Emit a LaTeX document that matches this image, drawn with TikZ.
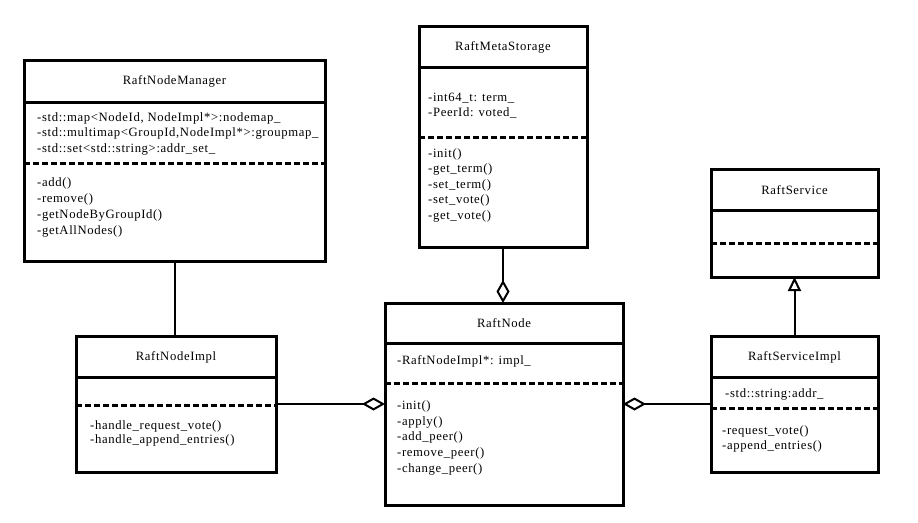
\documentclass[tikz,border=0pt]{standalone}
\usepackage{fontspec}
\setmainfont{Liberation Serif}[LetterSpace=5]
\usetikzlibrary{arrows.meta}
\newcommand{\umlfont}[1]{\fontsize{12.7}{#1}\selectfont}

\begin{document}
\begin{tikzpicture}[x=1pt, y=-1pt,
    classbox/.style={draw, line width=3pt, inner sep=0pt, outer sep=0pt},
    title/.style={inner sep=0pt, font=\umlfont{15}},
    members/.style={anchor=north west, inner sep=0pt, align=left},
    sepline/.style={line width=3pt},
    dashline/.style={line width=3pt, dash pattern=on 6pt off 3pt},
    link/.style={line width=2pt},
    aggr/.style={link, -{Diamond[open, length=23pt, width=13pt]}},
    inherit/.style={link, -{Triangle[open, length=14pt, width=13pt]}}]

    \useasboundingbox (0,0) rectangle (918,522);

    % 1. RaftNodeManager
    \node[classbox, minimum width=301pt, minimum height=201pt] (mgr) at (174.5,160.5) {};
    \node[title] (mgr-t) at (174.5,81) {RaftNodeManager};
    \draw[sepline] ([yshift=-42pt]mgr.north west) -- ([yshift=-42pt]mgr.north east);
    \draw[dashline] ([yshift=-103pt]mgr.north west) -- ([yshift=-103pt]mgr.north east);
    \node[members, font=\umlfont{15.7}] (mgr-a) at (37,110)
        {\strut -std::map<NodeId, NodeImpl*>:nodemap\_\\
         -std::multimap<GroupId,NodeImpl*>:groupmap\_\\
         -std::set<std::string>:addr\_set\_};
    \node[members, font=\umlfont{15.9}] (mgr-m) at (37,175)
        {\strut -add()\\ -remove()\\ -getNodeByGroupId()\\ -getAllNodes()};

    % 2. RaftMetaStorage
    \node[classbox, minimum width=168pt, minimum height=221pt] (meta) at (503,136.5) {};
    \node[title] (meta-t) at (503,47) {RaftMetaStorage};
    \draw[sepline] ([yshift=-41pt]meta.north west) -- ([yshift=-41pt]meta.north east);
    \draw[dashline] ([yshift=-111pt]meta.north west) -- ([yshift=-111pt]meta.north east);
    \node[members, font=\umlfont{15.5}] (meta-a) at (428,90)
        {\strut -int64\_t: term\_\\ -PeerId: voted\_};
    \node[members, font=\umlfont{15.5}] (meta-m) at (428,146)
        {\strut -init()\\ -get\_term()\\ -set\_term()\\ -set\_vote()\\ -get\_vote()};

    % 3. RaftService
    \node[classbox, minimum width=167pt, minimum height=108pt] (srv) at (794.5,223) {};
    \node[title] (srv-t) at (794.5,190) {RaftService};
    \draw[sepline] ([yshift=-41pt]srv.north west) -- ([yshift=-41pt]srv.north east);
    \draw[dashline] ([yshift=-74pt]srv.north west) -- ([yshift=-74pt]srv.north east);

    % 4. RaftServiceImpl
    \node[classbox, minimum width=167pt, minimum height=136pt] (srvimpl) at (794.5,404) {};
    \node[title] (srvimpl-t) at (794.5,357) {RaftServiceImpl};
    \draw[sepline] ([yshift=-41pt]srvimpl.north west) -- ([yshift=-41pt]srvimpl.north east);
    \draw[dashline] ([yshift=-72pt]srvimpl.north west) -- ([yshift=-72pt]srvimpl.north east);
    \node[members, font=\umlfont{15}] (srvimpl-a) at (725,386.5)
        {\strut -std::string:addr\_};
    \node[members, font=\umlfont{15}] (srvimpl-m) at (722,423.5)
        {\strut -request\_vote()\\ -append\_entries()};

    % 5. RaftNodeImpl
    \node[classbox, minimum width=200pt, minimum height=136pt] (impl) at (176,404) {};
    \node[title] (impl-t) at (176,357) {RaftNodeImpl};
    \draw[sepline] ([yshift=-41pt]impl.north west) -- ([yshift=-41pt]impl.north east);
    \draw[dashline] ([yshift=-69pt]impl.north west) -- ([yshift=-69pt]impl.north east);
    \node[members, font=\umlfont{14}] (impl-m) at (90,419.2)
        {\strut -handle\_request\_vote()\\ -handle\_append\_entries()};

    % 6. RaftNode
    \node[classbox, minimum width=238pt, minimum height=202pt] (raft) at (504,404) {};
    \node[title] (raft-t) at (504,323) {RaftNode};
    \draw[sepline] ([yshift=-40pt]raft.north west) -- ([yshift=-40pt]raft.north east);
    \draw[dashline] ([yshift=-80pt]raft.north west) -- ([yshift=-80pt]raft.north east);
    \node[members, font=\umlfont{15.8}] (raft-a) at (397,353)
        {\strut -RaftNodeImpl*: impl\_};
    \node[members, font=\umlfont{15.8}] (raft-m) at (397,398)
        {\strut -init()\\ -apply()\\ -add\_peer()\\ -remove\_peer()\\ -change\_peer()};

    % 7. Connectors
    \draw[link] (mgr.south) -- (mgr.south |- impl.north);
    \draw[aggr] (meta.south) -- (meta.south |- raft.north);
    \draw[aggr] (impl.east) -- (impl.east -| raft.west);
    \draw[aggr] (srvimpl.west) -- (srvimpl.west -| raft.east);
    \draw[inherit] (srvimpl.north) -- (srv.south);
\end{tikzpicture}
\end{document}
